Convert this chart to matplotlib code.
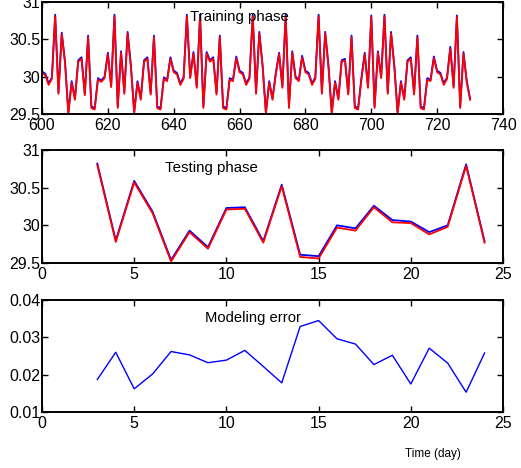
import matplotlib
matplotlib.use("Agg")
import matplotlib.pyplot as plt

plt.rcParams['font.family'] = ['Liberation Sans', 'DejaVu Sans']

# ---------------- data ----------------
train_days = list(range(600, 731))
train_actual = [
    30.07, 30.04, 29.91, 29.99, 30.83, 29.79, 30.59, 30.20, 29.52, 29.94,
    29.71, 30.22, 30.26, 29.77, 30.55, 29.60, 29.58, 29.98, 29.95, 30.00,
    30.32, 29.88, 30.83, 29.60, 30.34, 29.79, 30.60, 30.15, 29.53, 29.94,
    29.71, 30.22, 30.26, 29.78, 30.55, 29.60, 29.58, 29.99, 29.96, 30.26,
    30.08, 30.05, 29.91, 29.99, 30.83, 30.00, 30.33, 29.87, 30.83, 29.60,
    30.33, 30.22, 30.26, 29.78, 30.55, 29.60, 29.58, 29.98, 29.96, 30.27,
    30.08, 30.05, 29.91, 29.99, 30.83, 29.79, 30.60, 30.15, 29.52, 29.94,
    29.71, 30.05, 30.32, 29.87, 30.83, 29.60, 30.34, 30.00, 29.96, 30.28,
    30.08, 30.05, 29.91, 29.99, 30.83, 29.79, 30.60, 30.15, 29.52, 29.94,
    29.71, 30.22, 30.24, 29.78, 30.55, 29.60, 29.58, 29.98, 30.32, 29.87,
    30.82, 29.60, 30.34, 30.00, 30.83, 29.79, 30.60, 30.15, 29.52, 29.94,
    29.71, 30.22, 30.26, 29.78, 30.55, 29.60, 29.58, 29.98, 29.96, 30.27,
    30.08, 30.05, 29.91, 29.99, 30.40, 29.87, 30.82, 29.60, 30.33, 29.94,
    29.71]
train_pred = [
    30.05, 30.02, 29.89, 29.97, 30.81, 29.77, 30.57, 30.18, 29.50, 29.92,
    29.69, 30.20, 30.24, 29.75, 30.53, 29.58, 29.56, 29.96, 29.93, 29.98,
    30.30, 29.86, 30.81, 29.58, 30.32, 29.77, 30.58, 30.13, 29.51, 29.92,
    29.69, 30.20, 30.24, 29.76, 30.53, 29.58, 29.56, 29.97, 29.94, 30.24,
    30.06, 30.03, 29.89, 29.97, 30.81, 29.98, 30.31, 29.85, 30.81, 29.58,
    30.31, 30.20, 30.24, 29.76, 30.53, 29.58, 29.56, 29.96, 29.94, 30.25,
    30.06, 30.03, 29.89, 29.97, 30.81, 29.77, 30.58, 30.13, 29.50, 29.92,
    29.69, 30.03, 30.30, 29.85, 30.81, 29.58, 30.32, 29.98, 29.94, 30.26,
    30.06, 30.03, 29.89, 29.97, 30.81, 29.77, 30.58, 30.13, 29.50, 29.92,
    29.69, 30.20, 30.22, 29.76, 30.53, 29.58, 29.56, 29.96, 30.30, 29.85,
    30.80, 29.58, 30.32, 29.98, 30.81, 29.77, 30.58, 30.13, 29.50, 29.92,
    29.69, 30.20, 30.24, 29.76, 30.53, 29.58, 29.56, 29.96, 29.94, 30.25,
    30.06, 30.03, 29.89, 29.97, 30.38, 29.85, 30.80, 29.58, 30.31, 29.92,
    29.69]

test_days = list(range(3, 25))
test_actual = [30.82, 29.80, 30.59, 30.18, 29.54, 29.93, 29.71, 30.23, 30.24, 29.79, 30.54,
               29.61, 29.59, 30.00, 29.96, 30.26, 30.07, 30.05, 29.91, 30.00, 30.81, 29.79]
test_pred = [30.80, 29.78, 30.57, 30.16, 29.52, 29.91, 29.69, 30.21, 30.22, 29.77, 30.52,
             29.58, 29.56, 29.97, 29.93, 30.24, 30.04, 30.03, 29.88, 29.98, 30.79, 29.77]
model_error = [0.0187, 0.0260, 0.0162, 0.0202, 0.0262, 0.0253, 0.0232, 0.0239, 0.0265, 0.0222, 0.0178,
               0.0329, 0.0345, 0.0296, 0.0282, 0.0227, 0.0252, 0.0175, 0.0271, 0.0231, 0.0153, 0.0258]

temp_ticks = [29.5, 30, 30.5, 31]
temp_labels = ["29.5", "30", "30.5", "31"]
err_ticks = [0.01, 0.02, 0.03, 0.04]
err_labels = ["0.01", "0.02", "0.03", "0.04"]

# ---------------- figure ----------------
W, H = 521, 468
fig = plt.figure(figsize=(W / 100, H / 100), dpi=100)

def px_axes(l, t, r, b):
    return fig.add_axes([l / W, 1 - b / H, (r - l) / W, (b - t) / H])

def style(ax):
    for s in ax.spines.values():
        s.set_linewidth(1.4)
    ax.tick_params(direction='in', length=4, width=1, top=True, right=True,
                   labelsize=11.5, colors='black')
    ax.tick_params(axis='y', pad=1)
    ax.tick_params(axis='x', pad=3)

ax1 = px_axes(42, 2, 503, 114)
ax1.plot(train_days, train_actual, color='#0000ff', lw=1.3)
ax1.plot(train_days, train_pred, color='#ff0000', lw=1.3)
ax1.set_xlim(600, 740)
ax1.set_ylim(29.5, 31)
ax1.set_xticks(range(600, 741, 20))
ax1.set_yticks(temp_ticks)
ax1.set_yticklabels(temp_labels)
ax1.text(645, 30.8, "Training phase", fontsize=10.8, va='center')
style(ax1)

ax2 = px_axes(42, 150, 503, 263)
ax2.plot(test_days, test_actual, color='#0000ff', lw=1.3)
ax2.plot(test_days, test_pred, color='#ff0000', lw=1.3)
ax2.set_xlim(0, 25)
ax2.set_ylim(29.5, 31)
ax2.set_xticks(range(0, 26, 5))
ax2.set_yticks(temp_ticks)
ax2.set_yticklabels(temp_labels)
ax2.text(6.67, 30.76, "Testing phase", fontsize=10.8, va='center')
style(ax2)

ax3 = px_axes(42, 300, 503, 412)
ax3.plot(test_days, model_error, color='#0000ff', lw=1.0)
ax3.set_xlim(0, 25)
ax3.set_ylim(0.01, 0.04)
ax3.set_xticks(range(0, 26, 5))
ax3.set_yticks(err_ticks)
ax3.set_yticklabels(err_labels)
ax3.text(8.84, 0.0353, "Modeling error", fontsize=10.6, va='center')
style(ax3)

fig.text(405 / W, 1 - 454 / H, "Time (day)", fontsize=8.5, va='center', ha='left')

fig.savefig("out.png", dpi=100)
